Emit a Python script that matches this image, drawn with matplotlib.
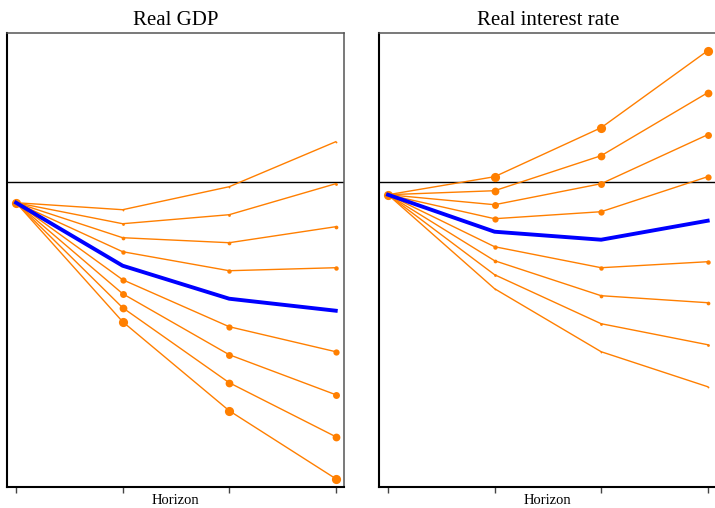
import matplotlib
matplotlib.use("Agg")
import matplotlib.pyplot as plt

# ---- data ----
horizon = [0, 1, 2, 3]

gdp_median = [-0.21, -0.84, -1.17, -1.29]
gdp_scenarios = [
    [-0.21, -0.28, -0.05, 0.40],
    [-0.21, -0.42, -0.33, -0.02],
    [-0.21, -0.56, -0.61, -0.45],
    [-0.21, -0.70, -0.89, -0.86],
    [-0.21, -0.98, -1.45, -1.70],
    [-0.21, -1.12, -1.73, -2.13],
    [-0.21, -1.26, -2.01, -2.55],
    [-0.21, -1.40, -2.29, -2.97],
]

rate_median = [-0.13, -0.50, -0.58, -0.39]
rate_scenarios = [
    [-0.13, -1.07, -1.70, -2.05],
    [-0.13, -0.93, -1.42, -1.63],
    [-0.13, -0.79, -1.14, -1.21],
    [-0.13, -0.65, -0.86, -0.80],
    [-0.13, -0.37, -0.30, 0.05],
    [-0.13, -0.23, -0.02, 0.47],
    [-0.13, -0.09, 0.26, 0.89],
    [-0.13, 0.05, 0.54, 1.31],
]

titles = ["Real GDP", "Real interest rate"]
xlabel = "Horizon"

# ---- style ----
marker_sizes = [1.3, 2.0, 2.7, 3.2, 4.5, 5.0, 5.6, 6.6]
orange = "#ff7f00"
blue = "#0000ff"

plt.rcParams["font.family"] = ["Liberation Serif", "DejaVu Serif"]

fig = plt.figure(figsize=(7.15, 5.08), dpi=100)
ax_w, ax_h = 0.472, 0.8937
positions = [[0.0098, 0.0419, ax_w, ax_h], [0.530, 0.0419, ax_w, ax_h]]

panels = [(gdp_scenarios, gdp_median), (rate_scenarios, rate_median)]

for pos, (scen, med), title in zip(positions, panels, titles):
    ax = fig.add_axes(pos)
    ax.axhline(0, color="black", lw=1.0, zorder=1.5)
    for s, ms in zip(scen, marker_sizes):
        ax.plot(horizon, s, color=orange, lw=1.0, marker="o", ms=ms,
                markeredgewidth=0, zorder=2)
    ax.plot(horizon, med, color=blue, lw=2.8, zorder=3)
    ax.set_xlim(-0.085, 3.082)
    ax.set_ylim(-3.05, 1.49)
    ax.set_xticks(horizon)
    ax.set_xticklabels([])
    ax.set_yticks([])
    ax.tick_params(axis="x", direction="out", length=4, width=1.0, color="#444444")
    for side in ["left", "bottom"]:
        ax.spines[side].set_color("black")
        ax.spines[side].set_linewidth(1.5)
    for side in ["top", "right"]:
        ax.spines[side].set_color("#555555")
        ax.spines[side].set_linewidth(1.1)
    ax.set_title(title, fontsize=15, pad=5.5)
    ax.set_xlabel(xlabel, fontsize=10.5, labelpad=-2)

fig.savefig("out.png", dpi=100)
